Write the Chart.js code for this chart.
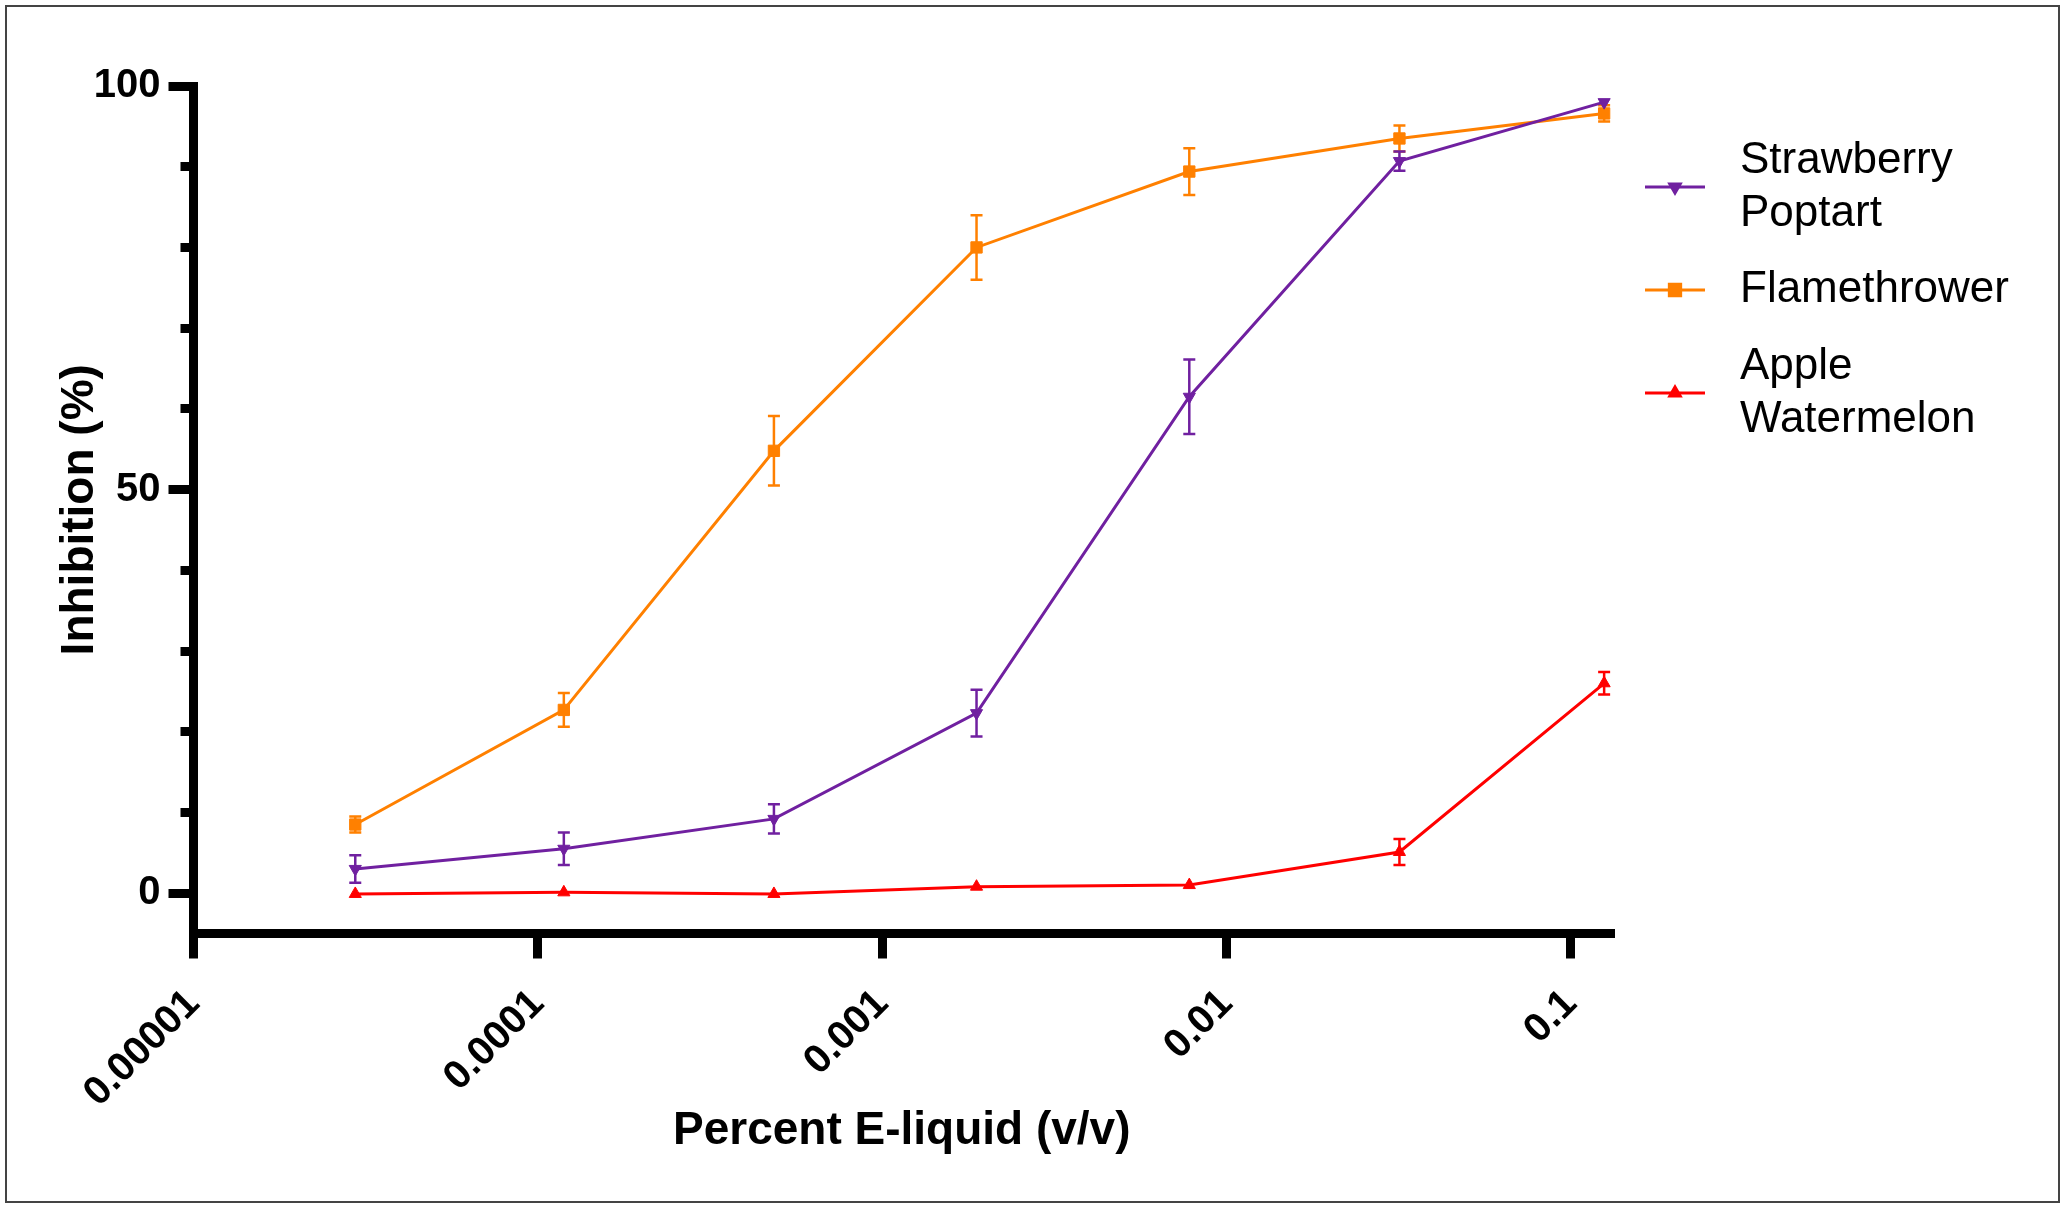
<!DOCTYPE html>
<html>
<head>
<meta charset="utf-8">
<title>Inhibition vs Percent E-liquid</title>
<script src="https://cdn.jsdelivr.net/npm/chart.js@4.4.1/dist/chart.umd.min.js"></script>
<style>
html, body { margin:0; padding:0; background:#ffffff; overflow:hidden; }
#wrap { position:relative; width:2065px; height:1208px; }
#frame { position:absolute; left:5px; top:5px; width:2051px; height:1194px; border:2px solid #444444; pointer-events:none; }
canvas { display:block; }
</style>
</head>
<body>
<div id="wrap">
    <canvas id="inhibitionChart" width="2065" height="1208"></canvas>
    <div id="frame"></div>
</div>
<script>

//======================================================
// DATA
//======================================================

// dilution series, % v/v
const concentrations = [0.0000295, 0.000119, 0.000485, 0.00188, 0.0078, 0.0318, 0.125];

const seriesNames = ["Strawberry Poptart", "Flamethrower", "Apple Watermelon"];

const strawberryMean = [3.0, 5.5, 9.2, 22.3, 61.5, 90.7, 98.0];
const strawberryErr  = [1.7, 2.0, 1.8, 2.9, 4.6, 1.2, 0.5];

const flameMean = [8.5, 22.7, 54.8, 80.0, 89.4, 93.5, 96.6];
const flameErr  = [1.0, 2.1, 4.3, 4.0, 2.9, 1.6, 1.0];

const appleMean = [-0.1, 0.1, -0.1, 0.8, 1.0, 5.1, 26.0];
const appleErr  = [0.2, 0.2, 0.2, 0.3, 0.3, 1.6, 1.4];

const xTickValues = [0.00001, 0.0001, 0.001, 0.01, 0.1];
const xTickLabels = ["0.00001", "0.0001", "0.001", "0.01", "0.1"];

const yMajorTicks = [0, 50, 100];
const yMinorTicks = [10, 20, 30, 40, 60, 70, 80, 90];

const legendLines = [["Strawberry", "Poptart"], ["Flamethrower"], ["Apple", "Watermelon"]];

//======================================================
// STYLE
//======================================================

const PURPLE = "#7020a0";
const ORANGE = "#ff8000";
const RED = "#ff0000";

const FONT = "\"Liberation Sans\", Arial, Helvetica, sans-serif";

Chart.defaults.font.family = FONT;
Chart.defaults.color = "#000000";

const LEGEND_TOP = 187;
const LEGEND_STEP = 103;

//======================================================
// HELPERS
//======================================================

function toPoints(means){

    return concentrations.map(function(c, i){
        return { x:c, y:means[i] };
    });

}

function tickList(values){

    return values.map(function(v){
        return { value:v };
    });

}

//======================================================
// ERROR BARS (drawn through the y scale)
//======================================================

const errorBarPlugin = {

    id:"errorBars",

    afterDatasetDraw(chart, args){

        const dataset = chart.data.datasets[args.index];

        if(!dataset.errors) return;

        const yScale = chart.scales[args.meta.yAxisID];
        const ctx = chart.ctx;

        ctx.save();
        ctx.strokeStyle = dataset.borderColor;
        ctx.lineWidth = 2.5;

        args.meta.data.forEach(function(point, i){

            const value = dataset.data[i].y;
            const err = dataset.errors[i];

            const top = yScale.getPixelForValue(value + err);
            const bottom = yScale.getPixelForValue(value - err);

            // hidden behind the symbol when tiny
            if((bottom - top) / 2 < 5) return;

            ctx.beginPath();
            ctx.moveTo(point.x, top);
            ctx.lineTo(point.x, bottom);
            ctx.moveTo(point.x - 6, top);
            ctx.lineTo(point.x + 6, top);
            ctx.moveTo(point.x - 6, bottom);
            ctx.lineTo(point.x + 6, bottom);
            ctx.stroke();

        });

        ctx.restore();

    }

};

//======================================================
// LEGEND ON THE RIGHT (two-line labels)
//======================================================

function drawMarker(ctx, dataset, radius, x, y){

    if(Chart.helpers && Chart.helpers.drawPoint){

        Chart.helpers.drawPoint(ctx, {
            pointStyle:dataset.pointStyle,
            rotation:dataset.pointRotation || 0,
            radius:radius,
            borderWidth:1
        }, x, y);

        return;

    }

    ctx.beginPath();
    ctx.arc(x, y, radius, 0, Math.PI * 2);
    ctx.fill();

}

const sideLegendPlugin = {

    id:"sideLegend",

    afterDraw(chart){

        const ctx = chart.ctx;
        const area = chart.chartArea;

        chart.data.datasets.forEach(function(dataset, i){

            const cy = LEGEND_TOP + i * LEGEND_STEP;
            const x0 = area.right + 35;
            const x1 = area.right + 95;

            ctx.save();

            ctx.strokeStyle = dataset.borderColor;
            ctx.fillStyle = dataset.borderColor;
            ctx.lineWidth = 3;

            ctx.beginPath();
            ctx.moveTo(x0, cy);
            ctx.lineTo(x1, cy);
            ctx.stroke();

            drawMarker(ctx, dataset, dataset.legendRadius, (x0 + x1) / 2, cy);

            const lines = legendLines[i];
            const lineHeight = 53;
            const startY = cy - (lines.length - 1) * lineHeight / 2;

            ctx.fillStyle = "#000000";
            ctx.font = "44px " + FONT;
            ctx.textAlign = "left";
            ctx.textBaseline = "middle";

            lines.forEach(function(text, k){
                ctx.fillText(text, area.right + 130, startY + k * lineHeight);
            });

            ctx.restore();

        });

    }

};

//======================================================
// BUILD CHART
//======================================================

function makeDataset(name, means, errors, color, style, rotation, radius, legendRadius){

    return {
        label:name,
        data:toPoints(means),
        errors:errors,
        borderColor:color,
        backgroundColor:color,
        pointBackgroundColor:color,
        pointBorderColor:color,
        pointStyle:style,
        pointRotation:rotation,
        pointRadius:radius,
        pointBorderWidth:1,
        legendRadius:legendRadius,
        borderWidth:3,
        tension:0,
        clip:false,
        xAxisID:"x",
        yAxisID:"y"
    };

}

const ctx = document.getElementById("inhibitionChart").getContext("2d");

const inhibitionChart = new Chart(ctx, {

    type:"line",

    data:{

        datasets:[
            makeDataset(seriesNames[0], strawberryMean, strawberryErr, PURPLE, "triangle", 180, 7, 6),
            makeDataset(seriesNames[1], flameMean, flameErr, ORANGE, "rect", 0, 8, 8),
            makeDataset(seriesNames[2], appleMean, appleErr, RED, "triangle", 0, 7, 6)
        ]

    },

    options:{

        responsive:false,

        animation:false,

        events:[],

        layout:{
            padding:{ top:86, right:455, bottom:0, left:0 }
        },

        plugins:{
            legend:{ display:false },
            tooltip:{ enabled:false }
        },

        scales:{

            x:{

                type:"logarithmic",
                position:"bottom",
                bounds:"data",
                min:0.00001,
                max:0.13,

                afterBuildTicks:function(scale){
                    scale.ticks = tickList(xTickValues);
                },

                afterFit:function(scale){
                    scale.height = 274.5;
                },

                ticks:{
                    autoSkip:false,
                    minRotation:45,
                    maxRotation:45,
                    padding:22,
                    color:"#000000",
                    font:{ size:40, weight:"bold" },
                    callback:function(value, index){
                        return xTickLabels[index];
                    }
                },

                grid:{
                    drawOnChartArea:false,
                    drawTicks:true,
                    tickLength:25,
                    tickWidth:9,
                    lineWidth:9,
                    color:"#000000"
                },

                border:{
                    display:true,
                    width:9,
                    color:"#000000"
                },

                title:{
                    display:true,
                    text:"Percent E-liquid (v/v)",
                    color:"#000000",
                    font:{ size:46, weight:"bold" },
                    padding:{ top:0, bottom:49 }
                }

            },

            y:{

                type:"linear",
                position:"left",
                weight:1,
                min:-5,
                max:100,

                afterBuildTicks:function(scale){
                    scale.ticks = tickList(yMajorTicks);
                },

                afterFit:function(scale){
                    scale.width = 193.5;
                },

                ticks:{
                    padding:8,
                    color:"#000000",
                    font:{ size:40, weight:"bold" }
                },

                grid:{
                    drawOnChartArea:false,
                    drawTicks:true,
                    tickLength:25,
                    tickWidth:9,
                    lineWidth:9,
                    color:"#000000"
                },

                border:{
                    display:true,
                    width:9,
                    color:"#000000"
                },

                title:{
                    display:true,
                    text:"Inhibition (%)",
                    color:"#000000",
                    font:{ size:46, weight:"bold" },
                    padding:{ top:53, bottom:0 }
                }

            },

            // short minor ticks, sits flush against the main y axis
            yMinor:{

                type:"linear",
                axis:"y",
                position:"left",
                weight:0,
                min:-5,
                max:100,

                afterBuildTicks:function(scale){
                    scale.ticks = tickList(yMinorTicks);
                },

                afterFit:function(scale){
                    scale.width = 0;
                },

                ticks:{ display:false },

                grid:{
                    drawOnChartArea:false,
                    drawTicks:true,
                    tickLength:13,
                    tickWidth:9,
                    lineWidth:9,
                    color:"#000000"
                },

                border:{ display:false }

            }

        }

    },

    plugins:[errorBarPlugin, sideLegendPlugin]

});

</script>
</body>
</html>
